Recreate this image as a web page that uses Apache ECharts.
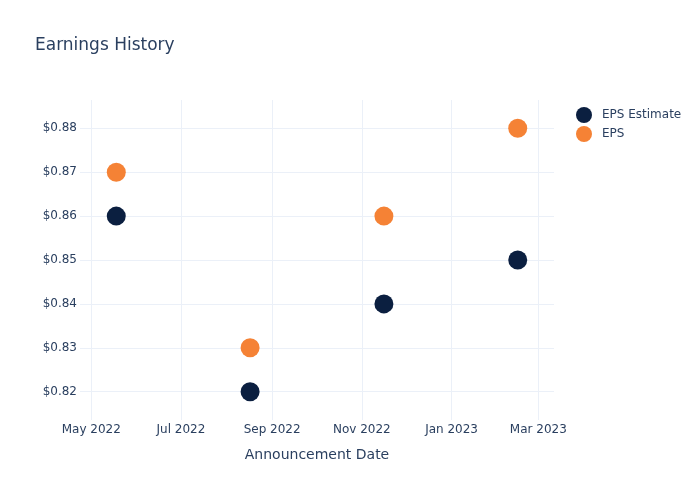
<!DOCTYPE html>
<html>
<head>
<meta charset="utf-8">
<script src="https://cdn.jsdelivr.net/npm/echarts@6/dist/echarts.min.js"></script>
<style>html,body{margin:0;padding:0;background:#fff}#c{width:700px;height:500px}</style>
</head>
<body>
<div id="c"></div>
<script>
const dates = ['2022-05-18', '2022-08-17', '2022-11-16', '2023-02-15'];
const epsEstimate = [0.86, 0.82, 0.84, 0.85];
const eps = [0.87, 0.83, 0.86, 0.88];
const xTicks = ['2022-05-01', '2022-07-01', '2022-09-01', '2022-11-01', '2023-01-01', '2023-03-01'];
const yTicks = [0.82, 0.83, 0.84, 0.85, 0.86, 0.87, 0.88];
const xRange = ['2022-04-23T08:00:00', '2023-03-11T16:00:00'];
const yRange = [0.81355, 0.88645];

const months = ['Jan','Feb','Mar','Apr','May','Jun','Jul','Aug','Sep','Oct','Nov','Dec'];
const ts = s => new Date(s + (s.length === 10 ? 'T00:00:00' : '')).getTime();
const textColor = '#2a3f5f';
const gridColor = '#EBF0F8';

const chart = echarts.init(document.getElementById('c'), null, {renderer: 'canvas'});
chart.setOption({
  animation: false,
  backgroundColor: '#fff',
  textStyle: {fontFamily: 'DejaVu Sans'},
  title: {
    text: 'Earnings History', left: 35, top: 37, padding: 0,
    textStyle: {fontFamily: 'DejaVu Sans', fontSize: 17, fontWeight: 'normal', color: textColor}
  },
  legend: {
    orient: 'vertical', left: 576, top: 107, padding: 0, itemGap: 3,
    itemWidth: 26, itemHeight: 16, icon: 'circle',
    textStyle: {fontFamily: 'DejaVu Sans', fontSize: 12, color: textColor},
    data: ['EPS Estimate', 'EPS']
  },
  grid: {left: 80, right: 146, top: 100, bottom: 80, containLabel: false},
  xAxis: {
    type: 'value', min: ts(xRange[0]), max: ts(xRange[1]), scale: true,
    name: 'Announcement Date', nameLocation: 'middle', nameGap: 28,
    nameTextStyle: {fontFamily: 'DejaVu Sans', fontSize: 14, color: textColor},
    axisLine: {show: false},
    axisTick: {show: false, customValues: xTicks.map(ts)},
    axisLabel: {
      customValues: xTicks.map(ts), margin: 4, fontSize: 12, color: textColor, fontFamily: 'DejaVu Sans',
      formatter: v => { const d = new Date(v); return months[d.getMonth()] + ' ' + d.getFullYear(); }
    },
    splitLine: {show: true, lineStyle: {color: gridColor, width: 1}}
  },
  yAxis: {
    type: 'value', min: yRange[0], max: yRange[1],
    axisLine: {show: false},
    axisTick: {show: false, customValues: yTicks},
    axisLabel: {
      customValues: yTicks, margin: 3, fontSize: 12, color: textColor, fontFamily: 'DejaVu Sans',
      formatter: v => '$' + v.toFixed(2)
    },
    splitLine: {show: true, lineStyle: {color: gridColor, width: 1}}
  },
  series: [
    {
      name: 'EPS Estimate', type: 'scatter', symbol: 'circle', symbolSize: 19,
      itemStyle: {color: '#0B1F40', opacity: 1},
      data: dates.map((d, i) => [ts(d), epsEstimate[i]])
    },
    {
      name: 'EPS', type: 'scatter', symbol: 'circle', symbolSize: 19,
      itemStyle: {color: '#F58235', opacity: 1},
      data: dates.map((d, i) => [ts(d), eps[i]])
    }
  ]
});
</script>
</body>
</html>
